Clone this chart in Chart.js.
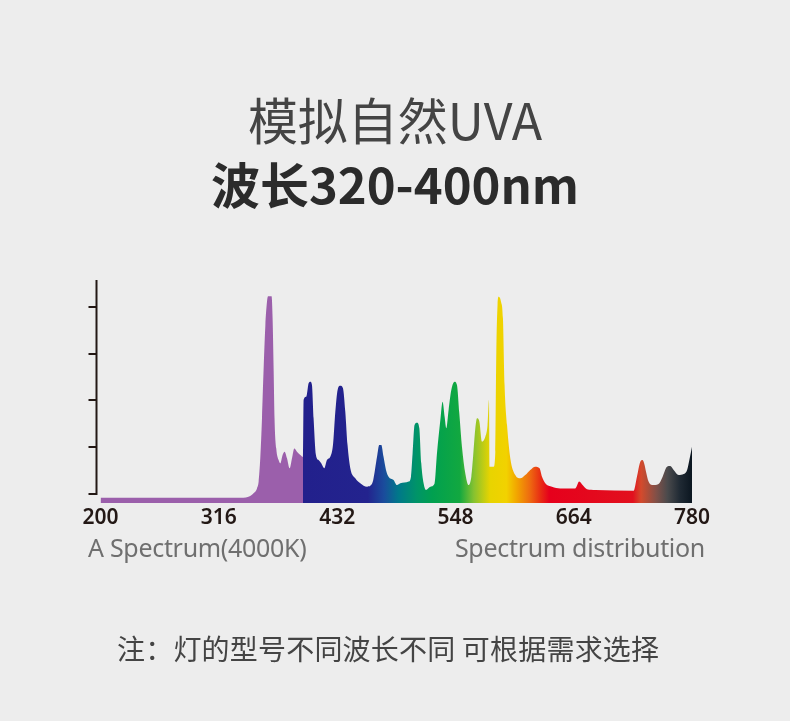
<!DOCTYPE html>
<html>
<head>
<meta charset="utf-8">
<script src="https://cdn.jsdelivr.net/npm/chart.js@4/dist/chart.umd.min.js"></script>
<style>
  body { margin: 0; background: #ededed; }
  #wrap { position: relative; width: 790px; height: 721px; overflow: hidden; background: #ededed; }
  #spectrumChart { position: absolute; left: 0; top: 0; }
  .txt { position: absolute; white-space: nowrap; }
  .title1 { left: 0; width: 790px; top: 93px; text-align: center; font: 400 50px/50px "Noto Sans CJK SC", sans-serif; color: #444; }
  .title2 { left: 0; width: 790px; top: 158px; text-align: center; font: 700 49px/49px "Noto Sans CJK SC", sans-serif; color: #2b2b2b; }
  .cap { top: 532px; font: 400 25px/30px "Noto Sans", sans-serif; color: #6f6f6f; letter-spacing: -0.3px; }
  .capL { left: 88px; }
  .capR { right: 85px; }
  .note { left: 117px; top: 634px; font: 400 28px/28px "Noto Sans CJK SC", sans-serif; color: #444; letter-spacing: 0.2px; }
</style>
</head>
<body>
<div id="wrap">
  <canvas id="spectrumChart" width="790" height="721"></canvas>
  <div class="txt title1">模拟自然UVA</div>
  <div class="txt title2">波长320-400nm</div>
  <div class="txt cap capL">A Spectrum(4000K)</div>
  <div class="txt cap capR">Spectrum distribution</div>
  <div class="txt note">注：灯的型号不同波长不同 可根据需求选择</div>
</div>
<script>
//+++++++++++++++++++++++ data +++++++++++++++++++++++
// wavelength (nm)
var wavelengthNm = [200, 340, 345, 350, 353.4, 355, 356.6, 358.3, 359.9, 361.6, 363.2, 364.2, 367.7, 368.7, 369.7, 370.6, 372.3, 374.6, 376.2, 378.5, 380.5, 382.8, 385.4, 387.7, 390, 392.6, 395.9, 398.5,
	399.1, 401.7, 404, 405.7, 407.3, 408.9, 411.2, 413.8, 416.4, 419.4, 422, 425.3, 427.9, 430.2, 432.4, 435.1, 437.7, 440, 442.2, 444.9, 449.8, 454.7, 461.3, 465.2,
	467.4, 471.1, 473.3, 475.3, 477.5, 479.9, 482.4, 487.3, 490.7, 493.9, 502.1, 504.4, 506, 507.9, 510.3, 512.6, 514.5, 516.8, 519.1, 523.3, 527.6, 529.9, 533.2, 535.4, 537.4, 539, 541.3, 543.9, 547.2, 549.5, 551.8, 554.4, 557.7, 560.9, 563.6,
	565.2, 567.5, 569.2, 571.5, 574.1, 577.3, 579.5, 580.9, 581.5, 585.4, 587.1, 588.1, 589.3, 590.3, 592.7, 594.6, 596.2, 598.6, 601.8, 606.7, 611.6, 616.5, 621.4, 626.3, 630.5, 632.9, 636.1, 642.7, 650.8, 660.6, 665.5, 669.4, 672.7, 677, 685.2,
	722.7, 726, 729.3, 731.5, 733.5, 734.9, 737.4, 740.8, 747.2, 751.2, 755.5, 758.7, 762, 766.9, 771.8, 775.2, 777.4, 780];

// relative intensity (one y tick = 20)
var intensity = [-1.6, -1.6, -1.2, 0.3, 2.4, 5.3, 15.3, 32.4, 53.7, 72.2, 82.2, 84.6, 84.6, 75.1, 53.7, 32.4, 19.5, 14.5, 13.1, 16.7, 18.1, 15.3, 11.0, 15.3, 19.5, 18.1, 16.7, 15.9,
	40.2, 41.6, 47.3, 48.0, 46.6, 32.4, 16.7, 14.5, 13.1, 11.0, 14.5, 15.9, 20.9, 35.2, 44.4, 46.3, 45.2, 35.2, 20.9, 11.0, 6.7, 4.6, 3.1, 3.8,
	6.0, 15.9, 20.9, 20.9, 15.9, 10.3, 7.4, 6.0, 3.8, 4.6, 5.3, 7.4, 17.4, 29.5, 30.5, 28.1, 13.1, 4.6, 1.7, 3.1, 4.6, 17.4, 31.6, 39.4, 33.0, 28.1, 35.9, 44.4, 48.0, 46.6, 34.5, 20.2, 8.8, 3.8, 7.4,
	15.3, 28.1, 32.4, 30.9, 22.4, 24.5, 29.5, 40.2, 11.7, 11.7, 18.1, 60.8, 80.8, 84.3, 82.2, 75.1, 46.6, 29.5, 15.3, 8.1, 6.7, 8.1, 10.3, 11.7, 11.0, 7.4, 4.6, 3.1, 2.4, 2.4, 2.4, 5.3, 3.8, 2.0, 1.7,
	1.4, 7.4, 13.8, 14.5, 12.4, 9.5, 5.3, 3.8, 4.3, 7.4, 11.7, 12.0, 10.3, 8.1, 8.5, 10.3, 14.5, 20.2];

var xTickLabels = [200, 316, 432, 548, 664, 780];
var yTickValues = [0, 20, 40, 60, 80];
//-------------------- end data --------------------

// colour of the fill along the wavelength axis
var spectrumStops = [
	[196, '#9b5fab'], [398.6, '#9b5fab'], [398.8, '#22208c'], [462, '#23238e'], [478, '#1a4c9c'],
	[492, '#00788a'], [510, '#009468'], [525, '#00a050'], [552, '#12a840'], [566, '#86c230'],
	[582, '#e8d400'], [598, '#f2d200'], [608, '#f2a600'], [621, '#ee6a10'], [632, '#e82a14'],
	[640, '#e6001c'], [722, '#e2101e'], [730, '#d44a2c'], [745, '#805048'], [756, '#4a4a4c'],
	[768, '#202a34'], [780, '#0b1620']
];

function spectrumFill(context) {
	var chart = context.chart;
	var area = chart.chartArea;
	if (!area) return '#9b5fab';
	var x = chart.scales.x;
	var g = chart.ctx.createLinearGradient(area.left, 0, area.right, 0);
	spectrumStops.forEach(function (s) {
		var p = (x.getPixelForValue(s[0]) - area.left) / (area.right - area.left);
		g.addColorStop(Math.min(1, Math.max(0, p)), s[1]);
	});
	return g;
}

// y axis line stops at the zero tick, like the picture
var axisLine = {
	id: 'axisLine',
	afterDraw: function (chart) {
		var ctx = chart.ctx, area = chart.chartArea, y = chart.scales.y;
		ctx.save();
		ctx.strokeStyle = '#231815';
		ctx.lineWidth = 2;
		ctx.beginPath();
		ctx.moveTo(area.left, area.top);
		ctx.lineTo(area.left, y.getPixelForValue(0) + 1);
		ctx.stroke();
		ctx.restore();
	}
};

var ctx = document.getElementById('spectrumChart').getContext('2d');
var chart = new Chart(ctx, {
	type: 'line',
	data: {
		datasets: [{
			data: wavelengthNm.map(function (w, i) { return { x: w, y: intensity[i] }; }),
			backgroundColor: spectrumFill,
			borderWidth: 0,
			pointRadius: 0,
			fill: 'start',
			cubicInterpolationMode: 'monotone'
		}]
	},
	options: {
		responsive: false,
		animation: false,
		layout: { padding: { left: 96.5, top: 280, right: 98, bottom: 178 } },
		plugins: { legend: { display: false }, tooltip: { enabled: false } },
		scales: {
			x: {
				type: 'linear',
				min: 196,
				max: 780,
				afterBuildTicks: function (s) { s.ticks = xTickLabels.map(function (v) { return { value: v }; }); },
				afterFit: function (s) { s.height = 40; },
				grid: { display: false, drawTicks: false },
				border: { display: false },
				ticks: {
					autoSkip: false,
					maxRotation: 0,
					padding: 2,
					color: '#231815',
					font: { family: "'Noto Sans', sans-serif", size: 21, weight: '600' }
				}
			},
			y: {
				min: -3.85,
				max: 91.5,
				afterBuildTicks: function (s) { s.ticks = yTickValues.map(function (v) { return { value: v }; }); },
				afterFit: function (s) { s.width = 0; },
				grid: { drawOnChartArea: false, drawTicks: true, tickLength: 8, color: '#231815', lineWidth: 2 },
				border: { display: false },
				ticks: { display: false }
			}
		}
	},
	plugins: [axisLine]
});
</script>
</body>
</html>
